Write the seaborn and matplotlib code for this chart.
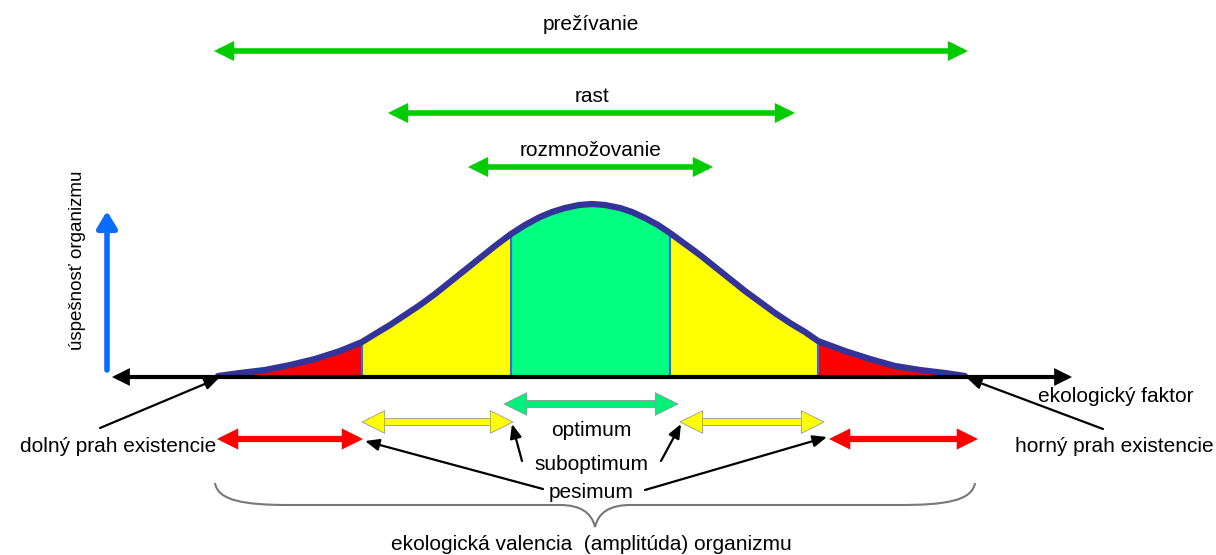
import numpy as np
import matplotlib
matplotlib.use("Agg")
import matplotlib.pyplot as plt
import matplotlib.patheffects as pe
from matplotlib.path import Path
from matplotlib.patches import PathPatch
import seaborn as sns

# ## Dáta (pozícia na osi faktora, výška krivky nad osou)
curve_x = [218, 240, 265, 290, 315, 340, 362, 375, 390, 405, 420, 435, 450, 465, 480, 495,
           511, 525, 540, 552, 565, 579, 592, 605, 620, 632, 645, 658, 670, 685, 700,
           715, 730, 745, 760, 775, 790, 805, 818, 845, 870, 895, 920, 945, 965]
curve_h = [1, 4, 7, 12, 18, 26, 35, 43, 52, 62, 72, 83, 95, 107, 119, 131,
           143, 152, 160, 165, 169, 172, 173, 172, 169, 165, 159, 152, 144, 133, 122,
           110, 98, 86, 75, 64, 54, 45, 36, 26, 18, 11, 7, 4, 1]

# zóny pod krivkou
zone_edges = [218, 362, 511, 670, 818, 965]
zone_colors = ['#ff0000', '#ffff00', '#00ff80', '#ffff00', '#ff0000']

# rozsahy hore
range_labels = ['prežívanie', 'rast', 'rozmnožovanie']
range_start = [214, 388, 468]
range_end = [968, 795, 713]
range_y = [326, 264, 210]
range_label_y = [352, 280, 226]

# rozsahy dole: optimum, suboptimum, pesimum
opt_span = [505, 677]
subopt_spans = [[363, 512], [681, 823]]
pesim_spans = [[217, 363], [829, 978]]

sns.set_theme(style='white')
plt.rcParams['font.family'] = ['Liberation Sans', 'DejaVu Sans']
plt.rcParams['text.color'] = 'black'

fig = plt.figure(figsize=(12.16, 5.55), dpi=100)
ax = fig.add_axes([0, 0, 1, 1])
ax.set_xlim(0, 1216)
ax.set_ylim(-178, 377)
ax.axis('off')

x = np.array(curve_x)
h = np.array(curve_h)

# výplne zón
for i, c in enumerate(zone_colors):
    m = (x >= zone_edges[i]) & (x <= zone_edges[i + 1])
    ax.fill_between(x, 0, h, where=m, color=c, lw=0)
inner = zone_edges[1:-1]
ax.vlines(inner, 0, np.interp(inner, x, h), color='#1e6fff', lw=1.5)

# krivka
sns.lineplot(x=curve_x, y=curve_h, color='#333399', lw=4.5, ax=ax, legend=False)


def dbl_arrow(x0, x1, y, color, lw=4, outline=None, ms=20):
    style = '<|-|>,head_length=0.4,head_width=0.2'
    a = ax.annotate('', xy=(x1, y), xytext=(x0, y),
                    arrowprops=dict(arrowstyle=style, color=color, lw=lw,
                                    mutation_scale=ms, shrinkA=0, shrinkB=0))
    a.arrow_patch.set_joinstyle('miter')
    if outline:
        a.arrow_patch.set_path_effects([pe.Stroke(linewidth=lw + 1.2, foreground=outline),
                                        pe.Normal()])


def pointer(x0, y0, x1, y1):
    ax.annotate('', xy=(x1, y1), xytext=(x0, y0),
                arrowprops=dict(arrowstyle='-|>,head_length=0.6,head_width=0.25',
                                color='black', lw=1.6, mutation_scale=14,
                                shrinkA=0, shrinkB=0))


# osi diagramu
dbl_arrow(112, 1072, 0, 'black', lw=3)
ax.annotate('', xy=(107, 166), xytext=(107, 7),
            arrowprops=dict(arrowstyle='-|>,head_length=0.5,head_width=0.3',
                            color='#0a6cff', lw=4, mutation_scale=20, shrinkA=0, shrinkB=0))
ax.text(77, 117, 'úspešnosť organizmu', rotation=90, ha='center', va='center', fontsize=13.5)
ax.text(1038, -19, 'ekologický faktor', ha='left', va='center', fontsize=15)

# horné rozsahy
for lab, s, e, y, ty in zip(range_labels, range_start, range_end, range_y, range_label_y):
    dbl_arrow(s, e, y, '#00cc00', lw=4)
    ax.text((s + e) / 2, ty, lab, ha='center', va='center', fontsize=15)

# dolné rozsahy
dbl_arrow(opt_span[0], opt_span[1], -27, '#00f07a', lw=4.5, outline='#999999')
for s, e in subopt_spans:
    dbl_arrow(s, e, -45, '#ffff00', lw=4.5, outline='#999999')
for s, e in pesim_spans:
    dbl_arrow(s, e, -62, '#ff0000', lw=4.5)

ax.text(591, -53, 'optimum', ha='center', va='center', fontsize=15)
ax.text(591, -88, 'suboptimum', ha='center', va='center', fontsize=15)
ax.text(591, -115, 'pesimum', ha='center', va='center', fontsize=15)
pointer(522, -84, subopt_spans[0][1], -47)
pointer(661, -84, subopt_spans[1][0], -47)
pointer(543, -112, pesim_spans[0][1] + 2, -64)
pointer(645, -113, pesim_spans[1][0] - 2, -60)

# prahy existencie
ax.text(20, -70, 'dolný prah existencie', ha='left', va='center', fontsize=15)
ax.text(1015, -70, 'horný prah existencie', ha='left', va='center', fontsize=15)
pointer(100, -51, curve_x[0] + 1, -1)
pointer(1103, -52, curve_x[-1] + 2, -1)

# zložená zátvorka
bl, br, bt, bm, tip = 215, 975, -106, -128, -150
bc = (bl + br) / 2
verts = [(bl, bt), (bl + 3, bt - 18), (bl + 30, bm), (bl + 75, bm),
         (bc - 35, bm), (bc - 5, bm), (bc, tip),
         (bc + 5, bm), (bc + 35, bm),
         (br - 75, bm), (br - 30, bm), (br - 3, bt - 18), (br, bt)]
codes = [Path.MOVETO, Path.CURVE4, Path.CURVE4, Path.CURVE4,
         Path.LINETO, Path.CURVE3, Path.CURVE3,
         Path.CURVE3, Path.CURVE3,
         Path.LINETO, Path.CURVE4, Path.CURVE4, Path.CURVE4]
ax.add_patch(PathPatch(Path(verts, codes), fill=False, edgecolor='#777777', lw=1.5))
ax.text(591, -168, 'ekologická valencia  (amplitúda) organizmu', ha='center', va='center',
        fontsize=15)

fig.savefig('out.png', dpi=100)
